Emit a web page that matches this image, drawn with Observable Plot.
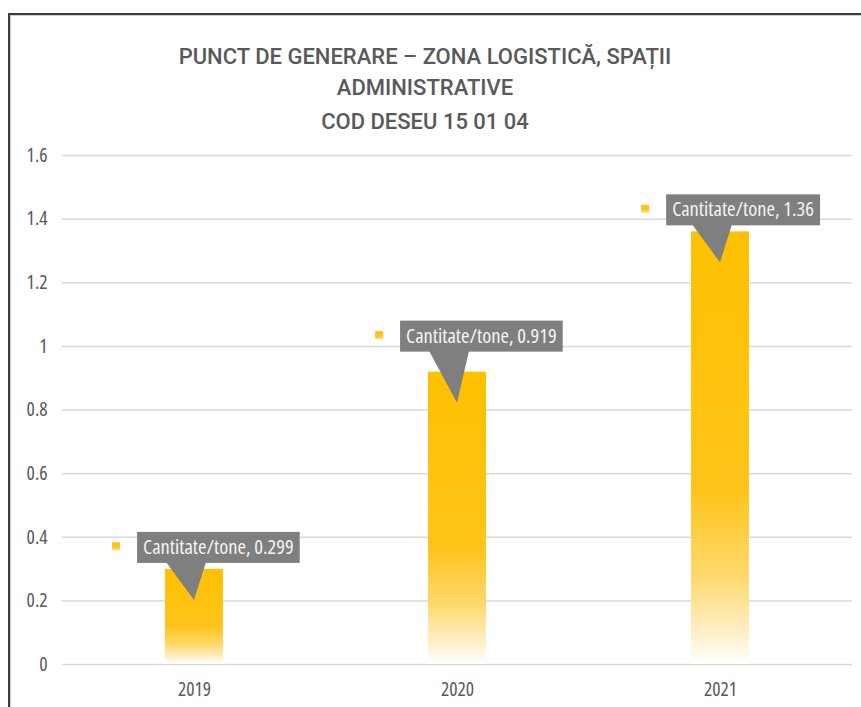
<!DOCTYPE html>
<html>
<head>
<meta charset="utf-8">
<script src="https://cdn.jsdelivr.net/npm/d3@7"></script>
<script src="https://cdn.jsdelivr.net/npm/@observablehq/plot@0.6"></script>
<style>
  html, body { margin: 0; padding: 0; background: #fff; }
  body { width: 861px; height: 707px; overflow: hidden; position: relative;
         font-family: 'Open Sans', sans-serif; font-stretch: 75%; }
  #frame { position: absolute; left: 8px; top: 13px; width: 900px; height: 760px;
           border-top: 2px solid #3c3c3c; border-left: 2px solid #3c3c3c;
           box-shadow: inset 1px 1px 0 #d0d0d0; }
  .tline { position: absolute; left: 0; width: 850px; text-align: center;
           font-family: Roboto, sans-serif; font-weight: 500; font-size: 22px; line-height: 22px;
           color: #595959; white-space: nowrap; font-stretch: 100%; }
  #chart { position: absolute; left: 0; top: 130px; }
  #chart svg, #chart svg text { font-stretch: 75%; }
</style>
</head>
<body>
<div id="frame"></div>
<div class="tline" style="top:45.5px">PUNCT DE GENERARE – ZONA LOGISTICĂ, SPAȚII</div>
<div class="tline" style="top:76.5px">ADMINISTRATIVE</div>
<div class="tline" style="top:110.5px">COD DESEU 15 01 04</div>
<div id="chart"></div>
<script>
// ---- data ----
const years = ["2019", "2020", "2021"];
const values = [0.299, 0.919, 1.36];
const seriesName = "Cantitate/tone";
const yTicks = [0, 0.2, 0.4, 0.6, 0.8, 1, 1.2, 1.4, 1.6];

const data = years.map((year, i) => ({year, value: values[i]}));

const FONT = "'Open Sans', sans-serif";
const calloutFontSize = 20.5;
const calloutLift = [6, 20, 6]; // px gap between callout box and bar top

function measure(text, size) {
  const svg = d3.select(document.body).append("svg")
    .attr("style", "position:absolute;left:0;top:0;visibility:hidden");
  const t = svg.append("text").attr("font-family", FONT).attr("font-size", size)
    .style("font-stretch", "75%").text(text);
  const w = t.node().getComputedTextLength();
  svg.remove();
  return w;
}

function defs() {
  const g = d3.create("svg:g");
  const d = g.append("defs");
  const bar = d.append("linearGradient").attr("id", "barGrad")
    .attr("x1", 0).attr("y1", 0).attr("x2", 0).attr("y2", 1);
  [[0, "#FFC000"], [0.6, "#FFC41A"], [0.8, "#FFD970"], [0.92, "#FFEEC4"], [1, "#FFFFFF"]]
    .forEach(([o, c]) => bar.append("stop").attr("offset", o).attr("stop-color", c));
  const key = d.append("linearGradient").attr("id", "keyGrad")
    .attr("x1", 0).attr("y1", 0).attr("x2", 0).attr("y2", 1);
  [[0, "#FFC000"], [0.6, "#FFC51E"], [1, "#FFE08F"]]
    .forEach(([o, c]) => key.append("stop").attr("offset", o).attr("stop-color", c));
  return g.node();
}

function callouts(index, scales) {
  const sx = scales.x, sy = scales.y;
  const bw = typeof sx.bandwidth === "function" ? sx.bandwidth() : (sx.bandwidth || 0);
  const g = d3.create("svg:g");
  years.forEach((yr, i) => {
    const cx = sx(yr) + bw / 2;
    const top = sy(values[i]);
    const label = `${seriesName}, ${values[i]}`;
    const tw = measure(label, calloutFontSize);
    const boxW = tw + 12, boxH = 31;
    const left = cx - 0.35 * boxW;
    const bottom = top - calloutLift[i];
    g.append("path")
      .attr("d", `M${cx - 28},${bottom - 1}L${cx + 12},${bottom - 1}L${cx},${top + 31}Z`)
      .attr("fill", "#7f7f7f");
    g.append("rect").attr("x", left).attr("y", bottom - boxH)
      .attr("width", boxW).attr("height", boxH).attr("fill", "#7f7f7f");
    g.append("text").attr("x", left + 6).attr("y", bottom - 9)
      .attr("text-anchor", "start")
      .attr("fill", "#f4f4f4").attr("font-size", calloutFontSize)
      .attr("font-family", FONT).style("font-stretch", "75%").text(label);
    g.append("rect").attr("x", left - 25).attr("y", bottom - boxH / 2 - 5)
      .attr("width", 8).attr("height", 8).attr("fill", "url(#keyGrad)");
  });
  return g.node();
}

const chart = Plot.plot({
  width: 861,
  height: 577,
  marginLeft: 62,
  marginRight: 9,
  marginTop: 25,
  marginBottom: 43,
  style: { fontFamily: FONT, fontSize: "19.5px", color: "#595959", background: "transparent", overflow: "visible" },
  x: { domain: years, paddingInner: 0.78, paddingOuter: 0.39, label: null },
  y: { domain: [0, 1.6], label: null },
  marks: [
    defs,
    Plot.gridY(yTicks, { stroke: "#d9d9d9", strokeOpacity: 1, strokeWidth: 1.5 }),
    Plot.axisY(yTicks, { tickSize: 0, tickPadding: 15, tickFormat: d => String(+d.toFixed(1)), label: null, fontSize: 19.5 }),
    Plot.axisX({ tickSize: 0, tickPadding: 18, label: null, fontSize: 19.5 }),
    Plot.barY(data, { x: "year", y: "value", fill: "url(#barGrad)" }),
    callouts
  ]
});
document.getElementById("chart").appendChild(chart);
</script>
</body>
</html>
